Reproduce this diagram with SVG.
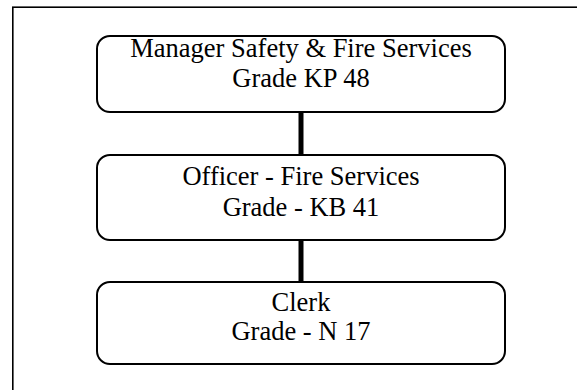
<svg xmlns="http://www.w3.org/2000/svg" width="577" height="390" viewBox="0 0 577 390">
  <style>
    .frame { fill: none; stroke: #000; stroke-width: 1.6; }
    .box { fill: #fff; stroke: #000; stroke-width: 2; }
    .link { stroke: #000; stroke-width: 5; fill: none; }
    .label { font-family: 'Liberation Serif', 'DejaVu Serif', serif; font-size: 26.5px; fill: #000; text-anchor: middle; }
  </style>
  <rect width="577" height="390" fill="#fff"/>
  <!-- outer page frame, open to the right and bottom -->
  <rect class="frame" x="12.8" y="7.2" width="600" height="400"/>

  <g id="connectors">
    <line class="link" x1="301" y1="112" x2="301" y2="155"/>
    <line class="link" x1="301" y1="240" x2="301" y2="282"/>
  </g>

  <g id="manager">
    <rect class="box" x="97" y="36" width="408" height="76" rx="13" ry="13"/>
    <text class="label" x="301" y="57">Manager Safety &amp; Fire Services</text>
    <text class="label" x="301" y="87">Grade KP 48</text>
  </g>

  <g id="officer">
    <rect class="box" x="97" y="155" width="408" height="85" rx="13" ry="13"/>
    <text class="label" x="301" y="185">Officer - Fire Services</text>
    <text class="label" x="301" y="216">Grade - KB 41</text>
  </g>

  <g id="clerk">
    <rect class="box" x="97" y="282" width="408" height="82" rx="13" ry="13"/>
    <text class="label" x="301" y="311">Clerk</text>
    <text class="label" x="301" y="340">Grade - N 17</text>
  </g>
</svg>
